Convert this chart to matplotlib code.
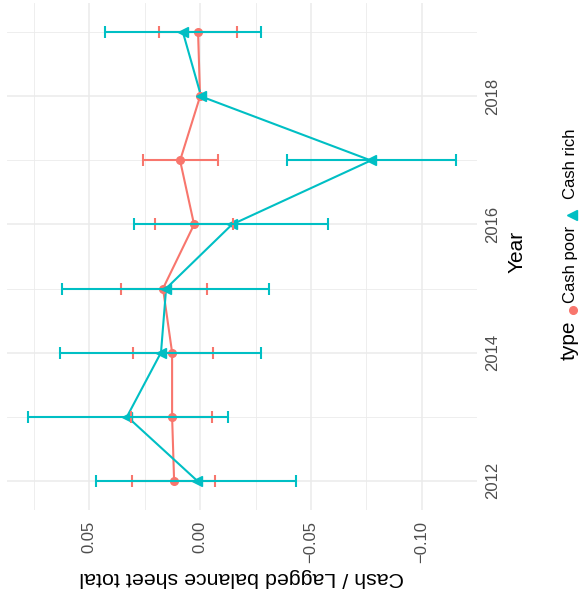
import numpy as np
import matplotlib
matplotlib.use("Agg")
import matplotlib.pyplot as plt
from matplotlib.lines import Line2D
from matplotlib.ticker import FixedLocator

plt.rcParams['font.family'] = ['Liberation Sans', 'DejaVu Sans']

POOR_COLOUR = '#F8766D'
RICH_COLOUR = '#00BFC4'
GRID_COLOUR = '#EBEBEB'
TICK_COLOUR = '#4D4D4D'

years = [2012, 2013, 2014, 2015, 2016, 2017, 2018, 2019]

cash_poor = [0.0117, 0.0126, 0.0126, 0.0167, 0.0027, 0.0090, 0.0000, 0.0009]
cash_poor_low = [-0.0068, -0.0054, -0.0059, -0.0032, -0.0149, -0.0081,
                 np.nan, -0.0167]
cash_poor_high = [0.0306, 0.0311, 0.0302, 0.0356, 0.0203, 0.0257,
                  np.nan, 0.0185]

cash_rich = [0.0014, 0.0329, 0.0176, 0.0153, -0.0144, -0.0770, -0.0005,
             0.0077]
cash_rich_low = [-0.0432, -0.0126, -0.0275, -0.0311, -0.0577, -0.1153,
                 np.nan, -0.0275]
cash_rich_high = [0.0468, 0.0775, 0.0631, 0.0622, 0.0297, -0.0392,
                  np.nan, 0.0428]

value_ticks = [0.05, 0.00, -0.05, -0.10]
value_minor = [0.075, 0.025, -0.025, -0.075, -0.125]
year_ticks = [2012, 2014, 2016, 2018]
year_minor = [2013, 2015, 2017, 2019]

W, H = 581, 602
fig = plt.figure(figsize=(W / 100, H / 100), dpi=100)
ax = fig.add_axes([7 / W, 1 - 510 / H, 470 / W, 507 / H])

series = [
    (cash_poor, cash_poor_low, cash_poor_high, POOR_COLOUR, 'o', 5.5),
    (cash_rich, cash_rich_low, cash_rich_high, RICH_COLOUR, '<', 6.5),
]

for vals, low, high, colour, marker, size in series:
    ax.plot(vals, years, color=colour, lw=1.5, zorder=3)
    ax.plot(vals, years, linestyle='none', marker=marker, ms=size,
            color=colour, zorder=4)

for vals, low, high, colour, marker, size in series:
    vals = np.array(vals)
    xerr = [vals - np.array(low), np.array(high) - vals]
    ax.errorbar(vals, years, xerr=xerr, fmt='none', ecolor=colour,
                elinewidth=1.5, capsize=4.4, capthick=1.5, zorder=5)

ax.set_xlim(0.087, -0.1248)
ax.set_ylim(2011.54, 2019.46)

ax.xaxis.set_major_locator(FixedLocator(value_ticks))
ax.xaxis.set_minor_locator(FixedLocator(value_minor))
ax.yaxis.set_major_locator(FixedLocator(year_ticks))
ax.yaxis.set_minor_locator(FixedLocator(year_minor))
ax.set_xticklabels(['0.05', '0.00', '\u22120.05', '\u22120.10'])

ax.grid(which='major', color=GRID_COLOUR, lw=1.1, zorder=0)
ax.grid(which='minor', color=GRID_COLOUR, lw=0.6, zorder=0)
ax.set_axisbelow(True)
for spine in ax.spines.values():
    spine.set_visible(False)

ax.tick_params(which='both', length=0)
ax.tick_params(axis='x', labelsize=12, labelcolor=TICK_COLOUR,
               labelrotation=90, pad=8)
ax.tick_params(axis='y', labelsize=12, labelcolor=TICK_COLOUR,
               labelrotation=90, left=False, labelleft=False,
               right=True, labelright=True, pad=5.5)
for label in ax.get_yticklabels():
    label.set_verticalalignment('center')

fig.text(242 / W, 1 - 578 / H, 'Cash / Lagged balance sheet total',
         rotation=180, ha='center', va='center', fontsize=15.4)
fig.text(523 / W, 1 - 252 / H, 'Year', rotation=90, rotation_mode='anchor',
         ha='center', va='baseline', fontsize=15)

# legend laid out along the right edge, reading upwards
base_x = 575 / W
fig.text(base_x, 1 - 340 / H, 'type', rotation=90, rotation_mode='anchor',
         ha='center', va='baseline', fontsize=15)
fig.add_artist(Line2D([573 / W], [1 - 310 / H], marker='o', ms=5.5,
                      color=POOR_COLOUR, transform=fig.transFigure))
fig.text(base_x, 1 - 264.5 / H, 'Cash poor', rotation=90,
         rotation_mode='anchor', ha='center', va='baseline', fontsize=12)
fig.add_artist(Line2D([572 / W], [1 - 215 / H], marker='<', ms=6.5,
                      color=RICH_COLOUR, transform=fig.transFigure))
fig.text(base_x, 1 - 164 / H, 'Cash rich', rotation=90,
         rotation_mode='anchor', ha='center', va='baseline', fontsize=12)

fig.savefig('out.png', dpi=100, facecolor='white')
